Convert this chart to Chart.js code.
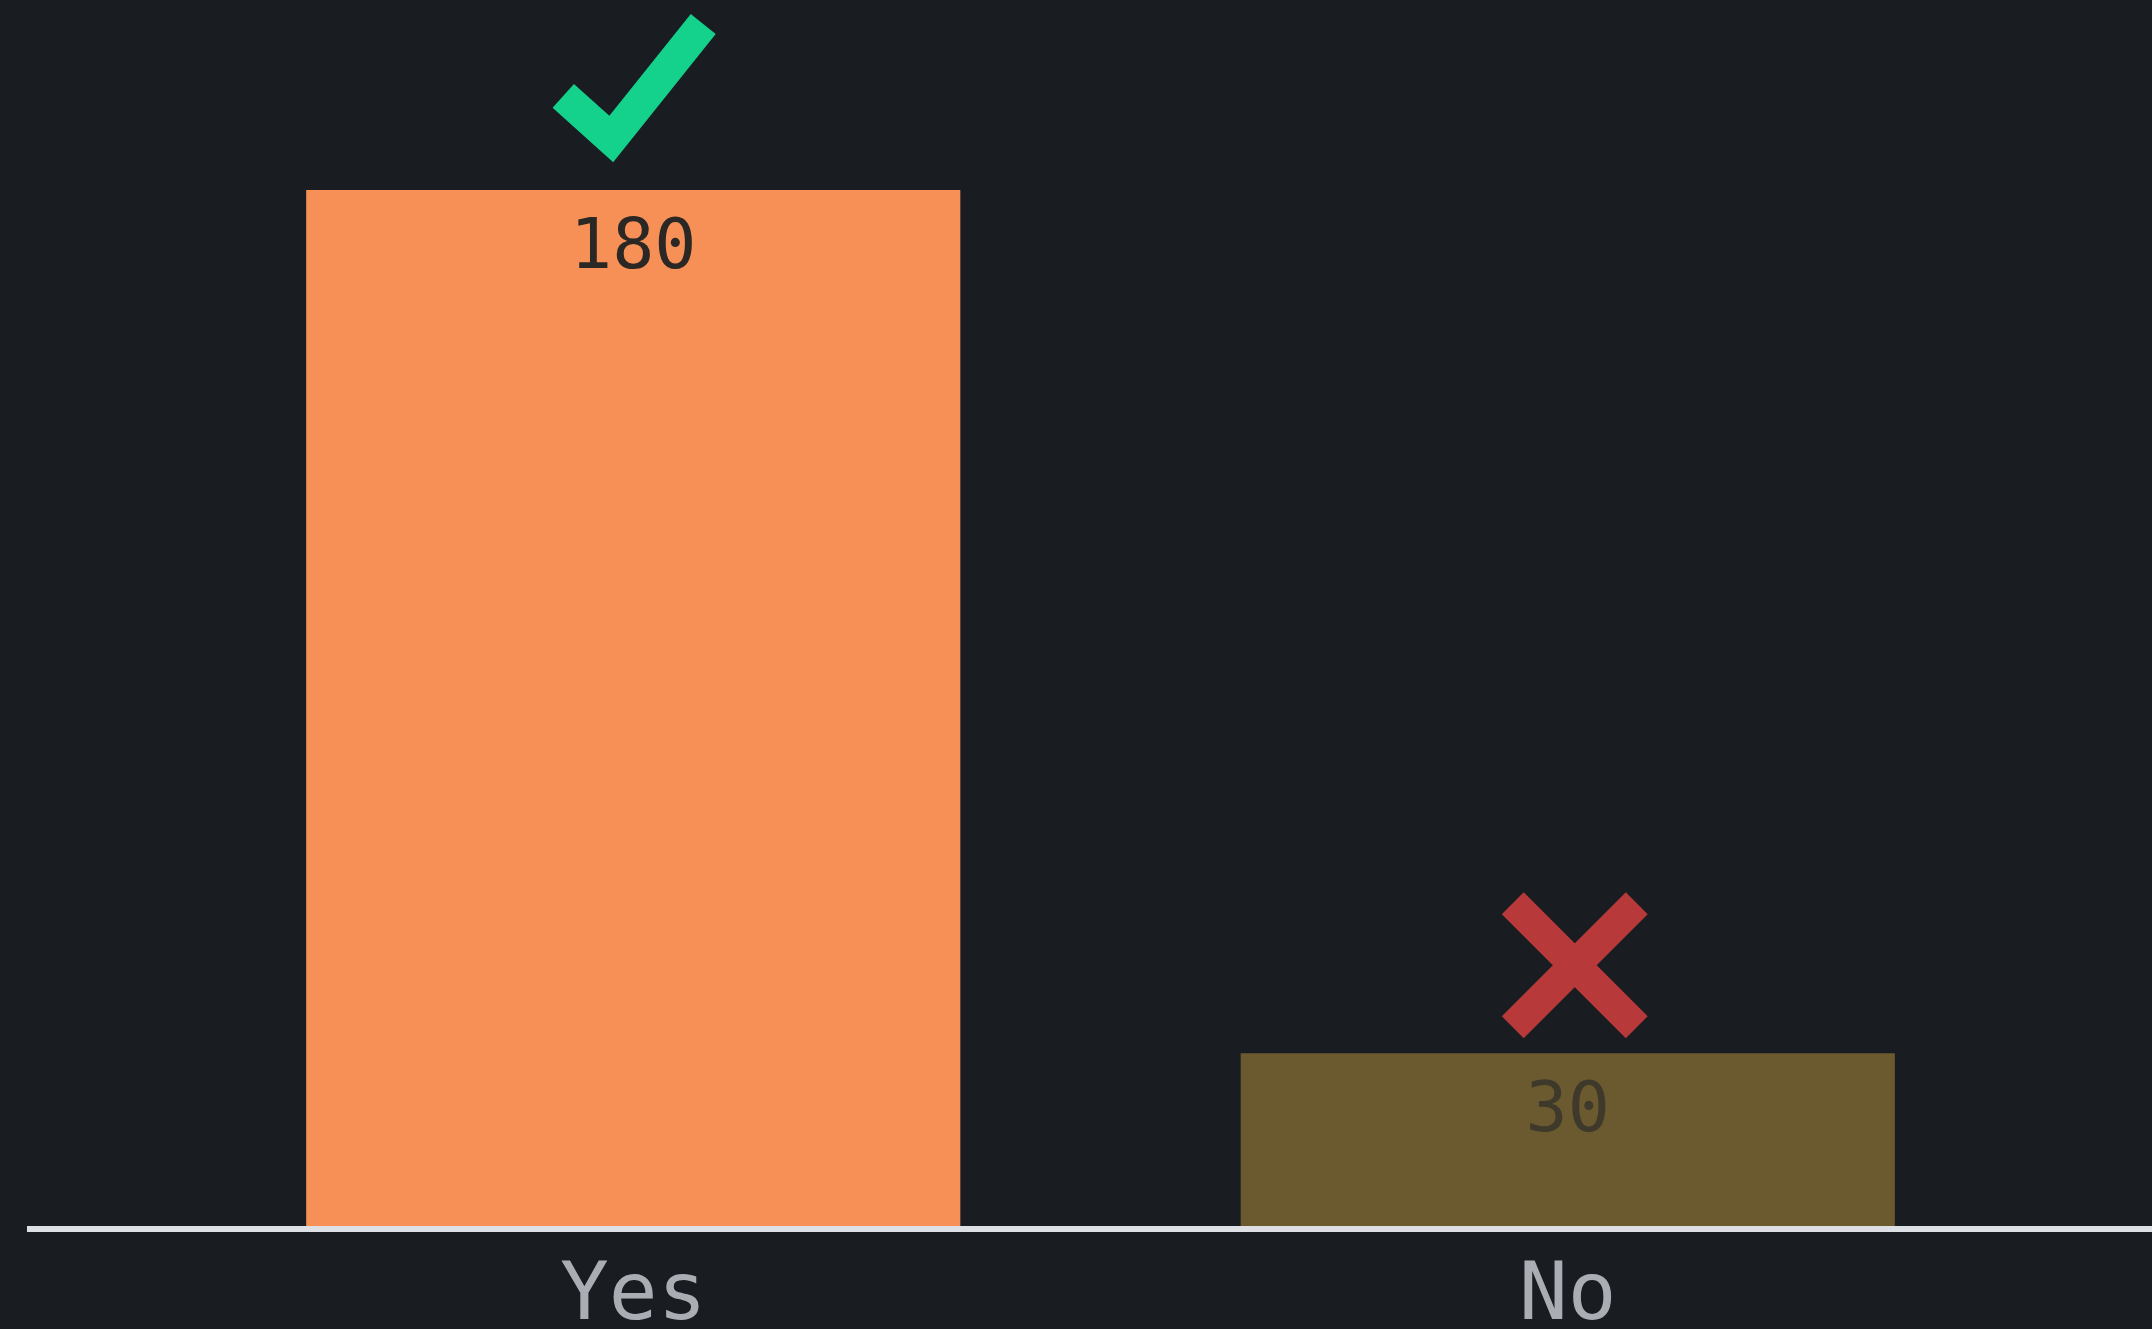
<!DOCTYPE html>
<html>
<head>
<meta charset="utf-8">
<script src="https://cdn.jsdelivr.net/npm/chart.js@4.4.1/dist/chart.umd.min.js"></script>
<style>
  html, body { margin: 0; padding: 0; background: #191c20; overflow: hidden; }
  #wrap { width: 2152px; height: 1329px; }
</style>
</head>
<body>
<div id="wrap"><canvas id="chart" width="2152" height="1329"></canvas></div>
<script>
const CATEGORIES = ['Yes', 'No'];
const VALUES = [180, 30];
const MARKERS = ['check', 'cross'];
const BAR_COLORS = ['#f79056', '#6b5a2f'];
const VALUE_COLORS = ['#2a2724', '#3e392b'];
const Y_MAX = 213;

const FONT = '"DejaVu Sans Mono", "Liberation Mono", monospace';

// check / cross glyph sitting above a bar
function drawMarker(ctx, kind, x, top) {
  ctx.save();
  ctx.lineCap = 'butt';
  ctx.lineJoin = 'miter';
  if (kind === 'check') {
    ctx.strokeStyle = '#14d18c';
    ctx.lineWidth = 32;
    ctx.beginPath();
    ctx.moveTo(x - 70, top - 94);
    ctx.lineTo(x - 22, top - 51);
    ctx.lineTo(x + 70, top - 166);
    ctx.stroke();
  } else {
    const cx = x + 7, cy = top - 88, r = 62;
    ctx.strokeStyle = '#b8393a';
    ctx.lineWidth = 31;
    ctx.beginPath();
    ctx.moveTo(cx - r, cy - r); ctx.lineTo(cx + r, cy + r);
    ctx.moveTo(cx + r, cy - r); ctx.lineTo(cx - r, cy + r);
    ctx.stroke();
  }
  ctx.restore();
}

const baseLine = {
  id: 'baseLine',
  afterDatasetsDraw(chart) {
    const { ctx, chartArea } = chart;
    const y = chart.scales.y.getPixelForValue(0) + 3;
    ctx.save();
    ctx.strokeStyle = '#dde1e6';
    ctx.lineWidth = 6;
    ctx.beginPath();
    ctx.moveTo(chartArea.left - 139, y);
    ctx.lineTo(chart.width, y);
    ctx.stroke();
    ctx.restore();
  }
};

const valueLabels = {
  id: 'valueLabels',
  afterDatasetsDraw(chart) {
    const { ctx } = chart;
    const meta = chart.getDatasetMeta(0);
    ctx.save();
    ctx.font = '70px ' + FONT;
    ctx.textAlign = 'center';
    ctx.textBaseline = 'alphabetic';
    meta.data.forEach((bar, i) => {
      ctx.fillStyle = VALUE_COLORS[i];
      ctx.fillText(String(VALUES[i]), bar.x, bar.y + 78);
      drawMarker(ctx, MARKERS[i], bar.x, bar.y);
    });
    ctx.restore();
  }
};

new Chart(document.getElementById('chart'), {
  type: 'bar',
  data: {
    labels: CATEGORIES,
    datasets: [{
      data: VALUES,
      backgroundColor: BAR_COLORS,
      borderWidth: 0,
      barPercentage: 0.7,
      categoryPercentage: 1
    }]
  },
  options: {
    responsive: false,
    animation: false,
    layout: { padding: { left: 166, right: 117, top: 0, bottom: 0 } },
    plugins: { legend: { display: false }, tooltip: { enabled: false } },
    scales: {
      x: {
        grid: { display: false, drawTicks: false },
        border: { display: false },
        ticks: { color: '#aaaeb4', font: { family: FONT, size: 81, lineHeight: 0.75 }, padding: 42, maxRotation: 0, autoSkip: false },
        afterFit: (scale) => { scale.height = 103; }
      },
      y: { display: false, min: 0, max: Y_MAX }
    }
  },
  plugins: [baseLine, valueLabels]
});
</script>
</body>
</html>
